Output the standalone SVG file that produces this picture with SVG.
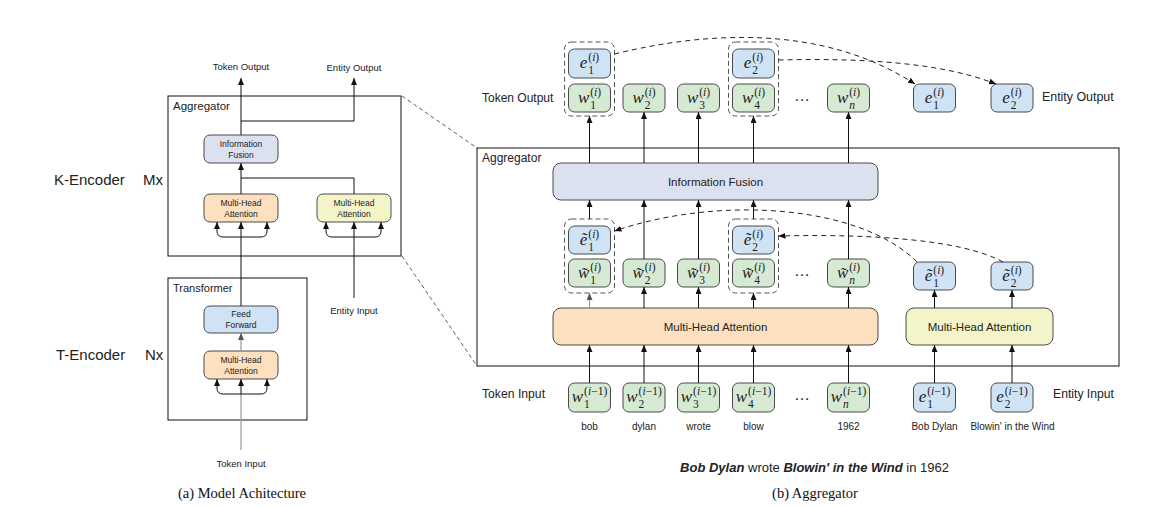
<svg xmlns="http://www.w3.org/2000/svg" width="1162" height="509" viewBox="0 0 1162 509">
<defs>
<marker id="ah" markerUnits="userSpaceOnUse" markerWidth="7" markerHeight="6" refX="7" refY="3" orient="auto"><path d="M0,0 L7,3 L0,6 z" fill="#111"/></marker>
<marker id="ahg" markerUnits="userSpaceOnUse" markerWidth="7" markerHeight="6" refX="7" refY="3" orient="auto"><path d="M0,0 L7,3 L0,6 z" fill="#555"/></marker>
</defs>
<style>
.bx{stroke:#4a4a4a;stroke-width:1}
.g{fill:#d6e9d3}.b{fill:#cfe3f5}.f{fill:#dce1ef}.o{fill:#fde0bf}.y{fill:#f3f5c9}
.dg{fill:none;stroke:#555;stroke-width:1;stroke-dasharray:5 3}
.ln{fill:none;stroke:#111;stroke-width:1}
.gl{fill:none;stroke:#999;stroke-width:1.2}
.dc{fill:none;stroke:#222;stroke-width:1;stroke-dasharray:5 4}
.pd{fill:none;stroke:#333;stroke-width:0.8;stroke-dasharray:4 3}
.fr{fill:none;stroke:#111;stroke-width:1}
.t{font-family:"Liberation Sans",Arial,sans-serif;fill:#222}
.c{text-anchor:middle}
.m{font-family:"Liberation Serif","DejaVu Serif",serif;font-style:italic;font-size:17px;fill:#222}
.s{font-family:"Liberation Serif","DejaVu Serif",serif;font-size:11.5px;fill:#222}
.i{font-style:italic}
.cap{font-family:"Liberation Serif","Times New Roman",serif;font-size:14.5px;fill:#111;text-anchor:middle}
</style>
<rect width="1162" height="509" fill="#fff"/>

<!-- Left panel -->
<g id="k-encoder-label"><text class="t" x="54" y="184.5" font-size="15">K-Encoder</text><text class="t" x="143" y="184.5" font-size="15">Mx</text></g>
<g id="t-encoder-label"><text class="t" x="56" y="359.5" font-size="15">T-Encoder</text><text class="t" x="145" y="359.5" font-size="15">Nx</text></g>

<g id="aggregator-left"><rect class="fr" x="168" y="96" width="233" height="160"/><text class="t" x="173" y="109.5" font-size="11.5">Aggregator</text></g>
<g id="transformer-left"><rect class="fr" x="168" y="278" width="139" height="142"/><text class="t" x="173" y="292" font-size="11">Transformer</text></g>

<g id="if-left"><rect class="bx f" x="204" y="135" width="74" height="28" rx="6"/><text class="t c" x="241" y="147" font-size="8.5">Information</text><text class="t c" x="241" y="158" font-size="8.5">Fusion</text></g>
<g id="mha-k-left"><rect class="bx o" x="204" y="194" width="74" height="28" rx="6"/><text class="t c" x="241" y="206" font-size="8.5">Multi-Head</text><text class="t c" x="241" y="217" font-size="8.5">Attention</text></g>
<g id="mha-e-left"><rect class="bx y" x="317" y="194" width="74" height="28" rx="6"/><text class="t c" x="354" y="206" font-size="8.5">Multi-Head</text><text class="t c" x="354" y="217" font-size="8.5">Attention</text></g>
<g id="ff-left"><rect class="bx b" x="204" y="306" width="74" height="27" rx="6"/><text class="t c" x="241" y="317" font-size="8.5">Feed</text><text class="t c" x="241" y="328" font-size="8.5">Forward</text></g>
<g id="mha-t-left"><rect class="bx o" x="204" y="351" width="74" height="28" rx="6"/><text class="t c" x="241" y="363" font-size="8.5">Multi-Head</text><text class="t c" x="241" y="374" font-size="8.5">Attention</text></g>

<g id="left-io-labels">
<text class="t c" x="241" y="69.5" font-size="9.5">Token Output</text>
<text class="t c" x="354" y="70.5" font-size="9.5">Entity Output</text>
<text class="t c" x="354" y="313.5" font-size="9.5">Entity Input</text>
<text class="t c" x="241" y="466.5" font-size="9.5">Token Input</text>
</g>
<text class="cap" x="242" y="498">(a) Model Achitecture</text>

<!-- Right panel frame -->
<g id="aggregator-right"><rect class="fr" x="477" y="148" width="642" height="218"/><text class="t" x="482" y="162" font-size="12">Aggregator</text></g>

<g id="right-row-labels">
<text class="t" x="482" y="102" font-size="12">Token Output</text>
<text class="t" x="1042" y="101" font-size="12.4">Entity Output</text>
<text class="t" x="482" y="398" font-size="12.2">Token Input</text>
<text class="t" x="1053" y="398" font-size="12.2">Entity Input</text>
</g>

<g id="if-right"><rect class="bx f" x="553" y="163" width="325" height="37" rx="8"/><text class="t c" x="715.5" y="186" font-size="11.5">Information Fusion</text></g>
<g id="mha-token-right"><rect class="bx o" x="553" y="308" width="325" height="37" rx="8"/><text class="t c" x="715.5" y="331" font-size="11.5">Multi-Head Attention</text></g>
<g id="mha-entity-right"><rect class="bx y" x="906" y="308" width="147" height="37" rx="8"/><text class="t c" x="979.5" y="331" font-size="11.5">Multi-Head Attention</text></g>

<!-- Output row -->
<g id="out-group-1"><rect class="dg" x="564.5" y="42" width="50" height="74" rx="7"/></g>
<g id="out-group-2"><rect class="dg" x="728.5" y="42" width="50" height="74" rx="7"/></g>
<g id="out-e1-top"><rect class="bx b" x="568.5" y="49" width="42" height="29" rx="6"/><text class="m" x="579.8" y="68">e</text><text class="s" x="588.3" y="60.5">(<tspan class="i">i</tspan>)</text><text class="s" x="588.3" y="74">1</text></g>
<g id="out-e2-top"><rect class="bx b" x="732.5" y="49" width="42" height="29" rx="6"/><text class="m" x="743.8" y="68">e</text><text class="s" x="752.3" y="60.5">(<tspan class="i">i</tspan>)</text><text class="s" x="752.3" y="74">2</text></g>
<g id="out-w1"><rect class="bx g" x="568.5" y="84" width="42" height="28" rx="6"/><text class="m" x="577.9" y="103">w</text><text class="s" x="590.2" y="95.5">(<tspan class="i">i</tspan>)</text><text class="s" x="590.2" y="109">1</text></g>
<g id="out-w2"><rect class="bx g" x="623" y="84" width="42" height="28" rx="6"/><text class="m" x="632.4" y="103">w</text><text class="s" x="644.7" y="95.5">(<tspan class="i">i</tspan>)</text><text class="s" x="644.7" y="109">2</text></g>
<g id="out-w3"><rect class="bx g" x="677.5" y="84" width="42" height="28" rx="6"/><text class="m" x="686.9" y="103">w</text><text class="s" x="699.2" y="95.5">(<tspan class="i">i</tspan>)</text><text class="s" x="699.2" y="109">3</text></g>
<g id="out-w4"><rect class="bx g" x="732.5" y="84" width="42" height="28" rx="6"/><text class="m" x="741.9" y="103">w</text><text class="s" x="754.2" y="95.5">(<tspan class="i">i</tspan>)</text><text class="s" x="754.2" y="109">4</text></g>
<text class="t c" x="802" y="101" font-size="16">…</text>
<g id="out-wn"><rect class="bx g" x="827.5" y="84" width="42" height="28" rx="6"/><text class="m" x="836.9" y="103">w</text><text class="s" x="849.2" y="95.5">(<tspan class="i">i</tspan>)</text><text class="s i" x="849.2" y="109">n</text></g>
<g id="out-e1"><rect class="bx b" x="913.5" y="84" width="42" height="28" rx="6"/><text class="m" x="924.8" y="103">e</text><text class="s" x="933.3" y="95.5">(<tspan class="i">i</tspan>)</text><text class="s" x="933.3" y="109">1</text></g>
<g id="out-e2"><rect class="bx b" x="991" y="84" width="42" height="28" rx="6"/><text class="m" x="1002.3" y="103">e</text><text class="s" x="1010.8" y="95.5">(<tspan class="i">i</tspan>)</text><text class="s" x="1010.8" y="109">2</text></g>

<!-- Tilde row -->
<g id="mid-group-1"><rect class="dg" x="564.5" y="219" width="50" height="74" rx="7"/></g>
<g id="mid-group-2"><rect class="dg" x="728.5" y="219" width="50" height="74" rx="7"/></g>
<g id="mid-e1"><rect class="bx b" x="568.5" y="226" width="42" height="28" rx="6"/><text class="m" x="579.8" y="245">ẽ</text><text class="s" x="588.3" y="237.5">(<tspan class="i">i</tspan>)</text><text class="s" x="588.3" y="251">1</text></g>
<g id="mid-e2"><rect class="bx b" x="732.5" y="226" width="42" height="28" rx="6"/><text class="m" x="743.8" y="245">ẽ</text><text class="s" x="752.3" y="237.5">(<tspan class="i">i</tspan>)</text><text class="s" x="752.3" y="251">2</text></g>
<g id="mid-w1"><rect class="bx g" x="568.5" y="259" width="42" height="28" rx="6"/><text class="m" x="577.9" y="278">w̃</text><text class="s" x="590.2" y="270.5">(<tspan class="i">i</tspan>)</text><text class="s" x="590.2" y="284">1</text></g>
<g id="mid-w2"><rect class="bx g" x="623" y="259" width="42" height="28" rx="6"/><text class="m" x="632.4" y="278">w̃</text><text class="s" x="644.7" y="270.5">(<tspan class="i">i</tspan>)</text><text class="s" x="644.7" y="284">2</text></g>
<g id="mid-w3"><rect class="bx g" x="677.5" y="259" width="42" height="28" rx="6"/><text class="m" x="686.9" y="278">w̃</text><text class="s" x="699.2" y="270.5">(<tspan class="i">i</tspan>)</text><text class="s" x="699.2" y="284">3</text></g>
<g id="mid-w4"><rect class="bx g" x="732.5" y="259" width="42" height="28" rx="6"/><text class="m" x="741.9" y="278">w̃</text><text class="s" x="754.2" y="270.5">(<tspan class="i">i</tspan>)</text><text class="s" x="754.2" y="284">4</text></g>
<text class="t c" x="802" y="276" font-size="16">…</text>
<g id="mid-wn"><rect class="bx g" x="827.5" y="259" width="42" height="28" rx="6"/><text class="m" x="836.9" y="278">w̃</text><text class="s" x="849.2" y="270.5">(<tspan class="i">i</tspan>)</text><text class="s i" x="849.2" y="284">n</text></g>
<g id="mid-e1r"><rect class="bx b" x="913.5" y="262" width="42" height="28" rx="6"/><text class="m" x="924.8" y="281">ẽ</text><text class="s" x="933.3" y="273.5">(<tspan class="i">i</tspan>)</text><text class="s" x="933.3" y="287">1</text></g>
<g id="mid-e2r"><rect class="bx b" x="991" y="262" width="42" height="28" rx="6"/><text class="m" x="1002.3" y="281">ẽ</text><text class="s" x="1010.8" y="273.5">(<tspan class="i">i</tspan>)</text><text class="s" x="1010.8" y="287">2</text></g>

<!-- Input row -->
<g id="in-w1"><rect class="bx g" x="568.5" y="383" width="42" height="29" rx="6"/><text class="m" x="571.8" y="402">w</text><text class="s" x="584.1" y="394.5">(<tspan class="i">i</tspan>−1)</text><text class="s" x="584.1" y="408">1</text><text class="t c" x="589.5" y="429.5" font-size="10">bob</text></g>
<g id="in-w2"><rect class="bx g" x="623" y="383" width="42" height="29" rx="6"/><text class="m" x="626.3" y="402">w</text><text class="s" x="638.6" y="394.5">(<tspan class="i">i</tspan>−1)</text><text class="s" x="638.6" y="408">2</text><text class="t c" x="644" y="429.5" font-size="10">dylan</text></g>
<g id="in-w3"><rect class="bx g" x="677.5" y="383" width="42" height="29" rx="6"/><text class="m" x="680.8" y="402">w</text><text class="s" x="693.1" y="394.5">(<tspan class="i">i</tspan>−1)</text><text class="s" x="693.1" y="408">3</text><text class="t c" x="698.5" y="429.5" font-size="10">wrote</text></g>
<g id="in-w4"><rect class="bx g" x="732.5" y="383" width="42" height="29" rx="6"/><text class="m" x="735.8" y="402">w</text><text class="s" x="748.1" y="394.5">(<tspan class="i">i</tspan>−1)</text><text class="s" x="748.1" y="408">4</text><text class="t c" x="753.5" y="429.5" font-size="10">blow</text></g>
<text class="t c" x="802" y="400" font-size="16">…</text>
<g id="in-wn"><rect class="bx g" x="827.5" y="383" width="42" height="29" rx="6"/><text class="m" x="830.8" y="402">w</text><text class="s" x="843.1" y="394.5">(<tspan class="i">i</tspan>−1)</text><text class="s i" x="843.1" y="408">n</text><text class="t c" x="848.5" y="429.5" font-size="10">1962</text></g>
<g id="in-e1"><rect class="bx b" x="913.5" y="383" width="42" height="29" rx="6"/><text class="m" x="918.7" y="402">e</text><text class="s" x="927.2" y="394.5">(<tspan class="i">i</tspan>−1)</text><text class="s" x="927.2" y="408">1</text><text class="t c" x="934.5" y="429.5" font-size="10">Bob Dylan</text></g>
<g id="in-e2"><rect class="bx b" x="991" y="383" width="42" height="29" rx="6"/><text class="m" x="996.2" y="402">e</text><text class="s" x="1004.7" y="394.5">(<tspan class="i">i</tspan>−1)</text><text class="s" x="1004.7" y="408">2</text><text class="t c" x="1012.5" y="429.5" font-size="10">Blowin' in the Wind</text></g>

<text class="t c" x="814.5" y="472" font-size="13"><tspan font-weight="bold" font-style="italic">Bob Dylan</tspan> wrote <tspan font-weight="bold" font-style="italic">Blowin' in the Wind</tspan> in 1962</text>
<text class="cap" x="815" y="498">(b) Aggregator</text>

<!-- Connectors -->
<g id="connectors">
<path class="pd" d="M402,96 L477,148"/>
<path class="pd" d="M402,256 L477,366"/>
<path class="ln" d="M241,135 V78" marker-end="url(#ah)"/>
<path class="ln" d="M241,121 H354 V78" marker-end="url(#ah)"/>
<path class="ln" d="M241,194 V163" marker-end="url(#ah)"/>
<path class="ln" d="M354,194 V178 H241"/>
<path class="ln" d="M241,306 V222" marker-end="url(#ah)"/>
<path class="ln" d="M241,237 H223 Q217,237 217,231 V222" marker-end="url(#ah)"/>
<path class="ln" d="M241,237 H261 Q267,237 267,231 V222" marker-end="url(#ah)"/>
<path class="ln" d="M354,298 V222" marker-end="url(#ah)"/>
<path class="ln" d="M354,237 H332 Q326,237 326,231 V222" marker-end="url(#ah)"/>
<path class="ln" d="M354,237 H375 Q381,237 381,231 V222" marker-end="url(#ah)"/>
<path class="gl" d="M241,351 V333" marker-end="url(#ahg)"/>
<path class="gl" d="M241,450 V394"/>
<path class="ln" d="M241,394 V379" marker-end="url(#ah)"/>
<path class="ln" d="M241,394 H223 Q217,394 217,388 V379" marker-end="url(#ah)"/>
<path class="ln" d="M241,394 H261 Q267,394 267,388 V379" marker-end="url(#ah)"/>
<path class="ln" d="M589.5,163 V116" marker-end="url(#ah)"/>
<path class="ln" d="M644,163 V112" marker-end="url(#ah)"/>
<path class="ln" d="M698.5,163 V112" marker-end="url(#ah)"/>
<path class="ln" d="M753.5,163 V116" marker-end="url(#ah)"/>
<path class="ln" d="M848.5,163 V112" marker-end="url(#ah)"/>
<path class="ln" d="M589.5,219 V200" marker-end="url(#ah)"/>
<path class="ln" d="M644,259 V200" marker-end="url(#ah)"/>
<path class="ln" d="M698.5,259 V200" marker-end="url(#ah)"/>
<path class="ln" d="M753.5,219 V200" marker-end="url(#ah)"/>
<path class="ln" d="M848.5,259 V200" marker-end="url(#ah)"/>
<path class="gl" d="M589.5,308 V293" marker-end="url(#ahg)"/>
<path class="ln" d="M644,308 V287" marker-end="url(#ah)"/>
<path class="ln" d="M698.5,308 V287" marker-end="url(#ah)"/>
<path class="ln" d="M753.5,308 V293" marker-end="url(#ah)"/>
<path class="ln" d="M848.5,308 V287" marker-end="url(#ah)"/>
<path class="ln" d="M934.5,308 V290" marker-end="url(#ah)"/>
<path class="ln" d="M1012,308 V290" marker-end="url(#ah)"/>
<path class="ln" d="M589.5,383 V345" marker-end="url(#ah)"/>
<path class="ln" d="M644,383 V345" marker-end="url(#ah)"/>
<path class="ln" d="M698.5,383 V345" marker-end="url(#ah)"/>
<path class="ln" d="M753.5,383 V345" marker-end="url(#ah)"/>
<path class="ln" d="M848.5,383 V345" marker-end="url(#ah)"/>
<path class="ln" d="M934.5,383 V345" marker-end="url(#ah)"/>
<path class="ln" d="M1012,383 V345" marker-end="url(#ah)"/>
<path class="dc" d="M614.5,54 C680,38 810,16 915,84" marker-end="url(#ah)"/>
<path class="dc" d="M778.5,60 C860,58 940,62 996,84" marker-end="url(#ah)"/>
<path class="dc" d="M917,262 C860,205 720,195 614.5,231" marker-end="url(#ah)"/>
<path class="dc" d="M1003,262 C960,238 860,234 778.5,236" marker-end="url(#ah)"/>
</g>
</svg>
